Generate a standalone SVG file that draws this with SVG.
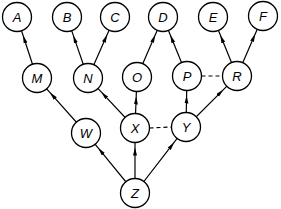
<svg xmlns="http://www.w3.org/2000/svg" width="281" height="209" viewBox="0 0 281 209">
<style>
.n circle{fill:#fff;stroke:#000;stroke-width:1.3}
.n text{font-family:"Liberation Sans",Arial,sans-serif;font-style:italic;font-size:13px;text-anchor:middle;fill:#000}
.e path{fill:none;stroke:#000;stroke-width:1.2;marker-mid:url(#ah)}
.e .d{stroke-dasharray:4,3;marker-mid:none}
</style>
<defs>
<marker id="ah" markerUnits="userSpaceOnUse" markerWidth="9" markerHeight="5" refX="8" refY="2" orient="auto">
<path d="M0,0 L8,2 L0,4 z" fill="#000"/>
</marker>
</defs>
<g id="connectors" class="e">
<path d="M37,78 L23.1,35.5 L17,17"/>
<path d="M88,78 L73.3,35.4 L67,17"/>
<path d="M88,78 L107.1,34.8 L115,17"/>
<path d="M137,77 L155.2,34.9 L163,17"/>
<path d="M187,76 L170.3,35.1 L163,17"/>
<path d="M237,76 L220.3,35.1 L213,17"/>
<path d="M237,76 L255.2,33.9 L263,16"/>
<path d="M86,133 L50,92.6 L37,78"/>
<path d="M135,128 L101.4,92.2 L88,78"/>
<path d="M135,128 L136.2,96.5 L137,77"/>
<path d="M186,127 L186.6,95.5 L187,76"/>
<path d="M186,127 L223.2,89.8 L237,76"/>
<path d="M135,193 L98.3,148.1 L86,133"/>
<path d="M135,193 L135,147.5 L135,128"/>
<path d="M135,193 L174.1,142.4 L186,127"/>
<path class="d" d="M149.5,128 L171.5,127"/>
<path class="d" d="M201.5,76 L222.5,76"/>
</g>
<g id="A" class="n"><circle cx="17" cy="17" r="14.5"/><text x="17" y="21.5">A</text></g>
<g id="B" class="n"><circle cx="67" cy="17" r="14.5"/><text x="67" y="21.5">B</text></g>
<g id="C" class="n"><circle cx="115" cy="17" r="14.5"/><text x="115" y="21.5">C</text></g>
<g id="D" class="n"><circle cx="163" cy="17" r="14.5"/><text x="163" y="21.5">D</text></g>
<g id="E" class="n"><circle cx="213" cy="17" r="14.5"/><text x="213" y="21.5">E</text></g>
<g id="F" class="n"><circle cx="263" cy="16" r="14.5"/><text x="263" y="20.5">F</text></g>
<g id="M" class="n"><circle cx="37" cy="78" r="14.5"/><text x="37" y="82.5">M</text></g>
<g id="N" class="n"><circle cx="88" cy="78" r="14.5"/><text x="88" y="82.5">N</text></g>
<g id="O" class="n"><circle cx="137" cy="77" r="14.5"/><text x="137" y="81.5">O</text></g>
<g id="P" class="n"><circle cx="187" cy="76" r="14.5"/><text x="187" y="80.5">P</text></g>
<g id="R" class="n"><circle cx="237" cy="76" r="14.5"/><text x="237" y="80.5">R</text></g>
<g id="W" class="n"><circle cx="86" cy="133" r="14.5"/><text x="86" y="137.5">W</text></g>
<g id="X" class="n"><circle cx="135" cy="128" r="14.5"/><text x="135" y="132.5">X</text></g>
<g id="Y" class="n"><circle cx="186" cy="127" r="14.5"/><text x="186" y="131.5">Y</text></g>
<g id="Z" class="n"><circle cx="135" cy="193" r="14.5"/><text x="135" y="197.5">Z</text></g>
</svg>
